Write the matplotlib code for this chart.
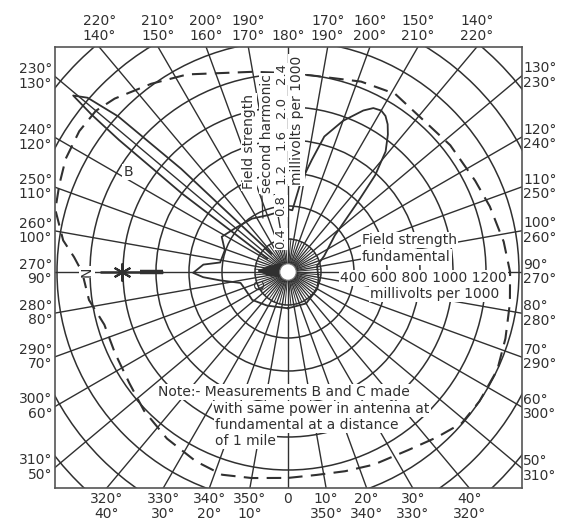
import numpy as np
import matplotlib
matplotlib.use('Agg')
import matplotlib.pyplot as plt
from matplotlib.patches import Circle

plt.rcParams['font.family'] = ['DejaVu Sans']

# one grid circle = 0.4 mV (second harmonic) = 200 mV (fundamental)
harm_per_ring = 0.4
fund_per_ring = 200

# fundamental field strength (dashed), degrees / millivolts per 1000
fund_angle = [0, 8, 16, 24, 34, 42, 49, 56, 65, 73, 82, 90, 98, 108, 116, 128, 149, 159,
              172, 180, 190, 207, 216, 225, 230, 236, 243, 249, 255, 262, 266, 270, 278,
              286, 295, 305, 314, 324, 334, 342, 350, 360]
fund_mv = [1248, 1242, 1256, 1278, 1302, 1348, 1396, 1400, 1400, 1378, 1358, 1346, 1320,
           1286, 1262, 1248, 1260, 1236, 1200, 1206, 1232, 1344, 1410, 1486, 1520, 1526,
           1512, 1484, 1460, 1376, 1300, 1248, 1218, 1158, 1158, 1174, 1212, 1248, 1276,
           1292, 1268, 1248]

# second harmonic field strength (solid)
harm_angle = [0, 30, 60, 77, 102, 114, 128, 135, 138, 141, 144, 146, 148, 150, 152.5, 155,
              160, 165, 168, 172, 176, 180, 199, 214, 230, 242, 251, 262, 265, 270.5,
              273.5, 277, 283, 292, 308, 328, 360]
harm_mv = [0.44, 0.44, 0.41, 0.38, 0.36, 0.48, 0.72, 1.19, 1.58, 1.88, 2.06, 2.16, 2.23,
           2.26, 2.24, 2.16, 1.95, 1.70, 1.39, 1.09, 0.75, 0.76, 0.73, 0.78, 0.83, 0.91,
           0.81, 0.83, 1.03, 1.15, 1.03, 0.83, 0.59, 0.56, 0.55, 0.48, 0.44]

# measurement B
b_angle = [222, 226, 227.5, 229, 230.6, 231.3, 232, 233.5, 237]
b_mv = [0.3, 1.8, 2.79, 3.22, 3.37, 3.05, 2.6, 1.6, 0.3]

# measurement C
c_angle = [225, 256, 268, 278.5, 310]
c_mv = [0.14, 0.25, 0.36, 0.245, 0.09]

harm_ticks = [0.4, 0.8, 1.2, 1.6, 2.0, 2.4]
angle_ticks = list(range(0, 360, 10))

ink = '#303030'


def to_xy(ang, r):
    a = np.radians(np.asarray(ang, float))
    r = np.asarray(r, float)
    return r * np.sin(a), -r * np.cos(a)


fig = plt.figure(figsize=(5.63, 5.26), dpi=100)
ax = fig.add_axes([55/563, 1-488/526, 467/563, 441/526])
xmin, xmax = -233/33, 234/33
ymin, ymax = -216/33, 225/33
ax.set_xlim(xmin, xmax)
ax.set_ylim(ymin, ymax)
ax.set_xticks([])
ax.set_yticks([])
for s in ax.spines.values():
    s.set_color('#555555')
    s.set_linewidth(1.2)

# grid circles and spokes
for k in range(1, 11):
    ax.add_patch(Circle((0, 0), k, fill=False, ec=ink, lw=1.1))
for a in angle_ticks:
    x, y = to_xy([a, a], [0.25, 12])
    ax.plot(x, y, color=ink, lw=1.0)
for a in range(5, 360, 10):
    x, y = to_xy([a, a], [0.25, 1])
    ax.plot(x, y, color=ink, lw=0.7)
ax.add_patch(Circle((0, 0), 0.25, fc='white', ec='#777777', lw=0.8, zorder=5))

# angle labels round the frame
for a in angle_ticks:
    rad = np.radians(a)
    sx, sy = np.sin(rad), -np.cos(rad)
    ts = []
    if sx > 1e-9: ts.append(xmax / sx)
    if sx < -1e-9: ts.append(xmin / sx)
    if sy > 1e-9: ts.append(ymax / sy)
    if sy < -1e-9: ts.append(ymin / sy)
    t = min(ts)
    hx, hy = t * sx, t * sy
    if a == 0:
        lab = '0'
    elif a == 180:
        lab = '180°'
    else:
        lab = f'{a}°\n{360 - a}°'
    kw = dict(textcoords='offset points', annotation_clip=False, fontsize=10,
              color=ink, linespacing=1.05)
    if abs(hy - ymin) < 1e-6:
        ax.annotate(lab, (hx, ymin), xytext=(0, -3), ha='center', va='top', **kw)
    elif abs(hy - ymax) < 1e-6:
        ax.annotate(lab, (hx, ymax), xytext=(0, 3), ha='center', va='bottom', **kw)
    elif abs(hx - xmax) < 1e-6:
        ax.annotate(lab, (xmax, hy), xytext=(1, 0), ha='left', va='center', **kw)
    else:
        ax.annotate(lab, (xmin, hy), xytext=(-2, 0), ha='right', va='center', **kw)

# curves
x, y = to_xy(fund_angle, np.array(fund_mv) / fund_per_ring)
ax.plot(x, y, color=ink, lw=1.5, dashes=(7, 4))
x, y = to_xy(harm_angle, np.array(harm_mv) / harm_per_ring)
ax.plot(x, y, color=ink, lw=1.3)
x, y = to_xy(b_angle, np.array(b_mv) / harm_per_ring)
ax.plot(x, y, color=ink, lw=1.3)
x, y = to_xy(c_angle, np.array(c_mv) / harm_per_ring)
ax.fill(np.r_[0, x], np.r_[0, y], color=ink, lw=1, zorder=4)

# north arrow
x, y = to_xy([270, 270], [3.8, 5.7])
ax.plot(x, y, color=ink, lw=1.8, solid_capstyle='butt')
x, y = to_xy([270, 270], [3.8, 4.5])
ax.plot(x, y, color=ink, lw=3.2, solid_capstyle='butt')
x, y = to_xy([270], [5.03])
ax.plot(x, y, marker=(6, 2, 0), ms=13, mew=1.5, color=ink)
ax.text(-6.09, 0, 'N', rotation=90, ha='center', va='center', fontsize=10, color=ink,
        bbox=dict(fc='white', ec='none', pad=0.5))

box = dict(fc='white', ec='none', pad=0.8)
tk = dict(color=ink, fontsize=10, bbox=box)

# second harmonic scale along the 180 degree line
for k, v in enumerate(harm_ticks, start=1):
    ax.text(-0.21, k, f'{v:.1f}', rotation=90, ha='center', va='center', fontsize=9.5,
            color=ink, bbox=dict(fc='white', ec='none', pad=0.3))
ax.text(-1.18, 3.94, 'Field strength', rotation=90, ha='center', va='center', **tk)
ax.text(-0.64, 4.21, 'second harmonic', rotation=90, ha='center', va='center', **tk)
ax.text(0.26, 4.6, 'millivolts per 1000', rotation=90, ha='center', va='center', **tk)
ax.plot([-0.79, -0.76], [2.3, 1.64], color=ink, lw=0.9)

# fundamental scale
ax.text(2.24, 0.97, 'Field strength', ha='left', va='center', **tk)
ax.text(2.24, 0.45, 'fundamental', ha='left', va='center', **tk)
ax.text(1.58, -0.18, '400 600 800 1000 1200', ha='left', va='center', **tk)
ax.text(2.48, -0.67, 'millivolts per 1000', ha='left', va='center', **tk)

ax.text(-4.85, 3.03, 'B', ha='center', va='center', **tk)
ax.text(-0.85, -0.39, 'C', rotation=90, ha='center', va='center', fontsize=10, color=ink)

ax.text(-3.94, -3.64, 'Note:- Measurements B and C made', ha='left', va='center', **tk)
ax.text(-2.27, -4.15, 'with same power in antenna at', ha='left', va='center', **tk)
ax.text(-2.21, -4.64, 'fundamental at a distance', ha='left', va='center', **tk)
ax.text(-2.21, -5.12, 'of 1 mile', ha='left', va='center', **tk)

fig.savefig('out.png', dpi=100, facecolor='white')
